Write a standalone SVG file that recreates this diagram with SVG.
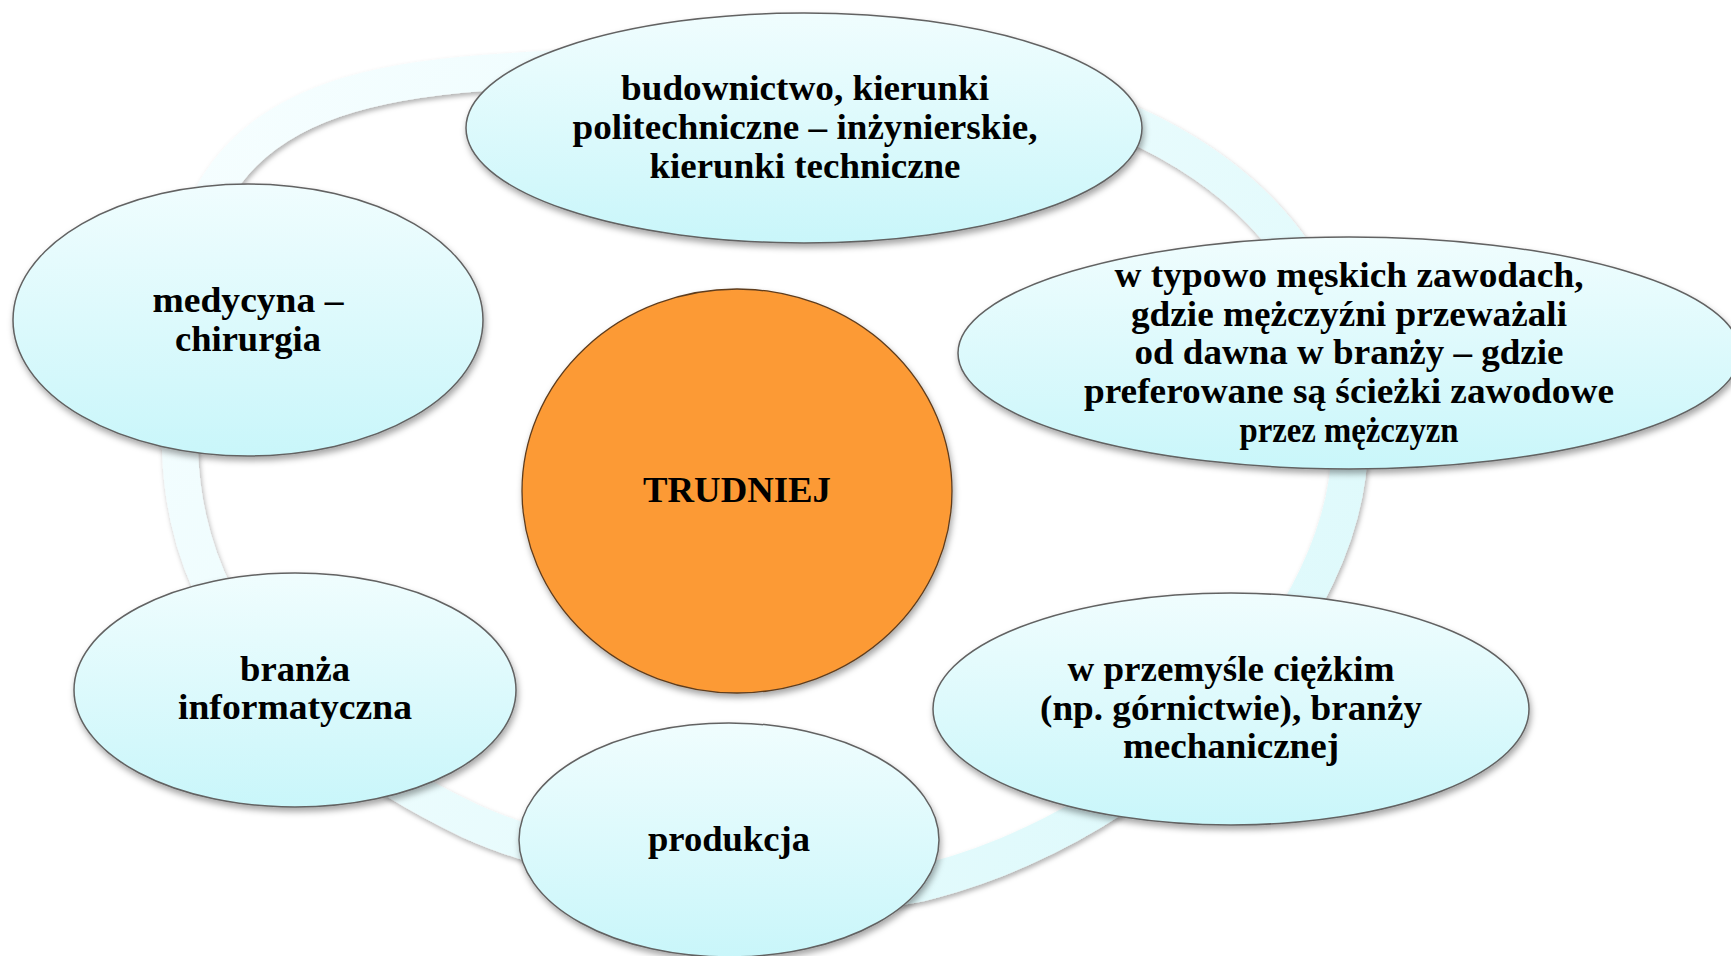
<svg xmlns="http://www.w3.org/2000/svg" width="1731" height="956" viewBox="0 0 1731 956">
  <style>
    .node { fill: url(#nodeFill); stroke: #626262; stroke-width: 1.5; filter: url(#shadow); }
    .core { fill: #fc9a36; stroke: #5e3d1f; stroke-width: 1.3; filter: url(#shadow); }
    .lbl { font-family: "Liberation Serif", "Times New Roman", serif; font-weight: bold; font-size: 36px; fill: #000; text-anchor: middle; }
    .ring { fill: none; stroke: url(#ringFill); stroke-width: 36; filter: url(#ringShadow); }
  </style>
  <defs>
    <linearGradient id="nodeFill" x1="0" y1="0" x2="0" y2="1">
      <stop offset="0" stop-color="#f0fdfe"/>
      <stop offset="1" stop-color="#c9f6fa"/>
    </linearGradient>
    <linearGradient id="ringFill" gradientUnits="userSpaceOnUse" x1="200" y1="60" x2="1300" y2="900">
      <stop offset="0" stop-color="#f6feff"/>
      <stop offset="1" stop-color="#dcf9fb"/>
    </linearGradient>
    <filter id="shadow" x="-10%" y="-10%" width="120%" height="130%">
      <feDropShadow dx="1.5" dy="4" stdDeviation="3" flood-color="#000" flood-opacity="0.35"/>
    </filter>
    <filter id="ringShadow" x="-10%" y="-10%" width="120%" height="120%">
      <feDropShadow dx="1.5" dy="3" stdDeviation="2.5" flood-color="#000" flood-opacity="0.3"/>
    </filter>
  </defs>
  <rect width="1731" height="956" fill="#ffffff"/>

  <g id="connectors">
    <path class="ring" d="M 180 450 C 155 170, 250 90, 483 73 C 600 64, 700 62, 800 62 C 1100 62, 1350 180, 1350 440 C 1350 620, 1160 820, 930 881 C 850 905, 600 880, 470 821 C 300 740, 185 620, 180 450 Z"/>
  </g>

  <g id="node-top">
    <ellipse class="node" cx="804" cy="128" rx="338" ry="115"/>
    <text class="lbl" x="805" y="100" textLength="368" lengthAdjust="spacingAndGlyphs">budownictwo, kierunki</text>
    <text class="lbl" x="805" y="139" textLength="465" lengthAdjust="spacingAndGlyphs">politechniczne – inżynierskie,</text>
    <text class="lbl" x="805" y="178" textLength="311" lengthAdjust="spacingAndGlyphs">kierunki techniczne</text>
  </g>

  <g id="node-right-top">
    <ellipse class="node" cx="1349" cy="353" rx="391" ry="116"/>
    <text class="lbl" x="1349" y="287" textLength="469" lengthAdjust="spacingAndGlyphs">w typowo męskich zawodach,</text>
    <text class="lbl" x="1349" y="326" textLength="436" lengthAdjust="spacingAndGlyphs">gdzie mężczyźni przeważali</text>
    <text class="lbl" x="1349" y="364" textLength="429" lengthAdjust="spacingAndGlyphs">od dawna w branży – gdzie</text>
    <text class="lbl" x="1349" y="403" textLength="530" lengthAdjust="spacingAndGlyphs">preferowane są ścieżki zawodowe</text>
    <text class="lbl" x="1349" y="442" textLength="219" lengthAdjust="spacingAndGlyphs">przez mężczyzn</text>
  </g>

  <g id="node-medycyna">
    <ellipse class="node" cx="248" cy="320" rx="235" ry="136"/>
    <text class="lbl" x="248" y="312" textLength="191" lengthAdjust="spacingAndGlyphs">medycyna –</text>
    <text class="lbl" x="248" y="351" textLength="146" lengthAdjust="spacingAndGlyphs">chirurgia</text>
  </g>

  <g id="node-branza">
    <ellipse class="node" cx="295" cy="690" rx="221" ry="117"/>
    <text class="lbl" x="295" y="681" textLength="110" lengthAdjust="spacingAndGlyphs">branża</text>
    <text class="lbl" x="295" y="719" textLength="234" lengthAdjust="spacingAndGlyphs">informatyczna</text>
  </g>

  <g id="node-produkcja">
    <ellipse class="node" cx="729" cy="840" rx="210" ry="117"/>
    <text class="lbl" x="729" y="851" textLength="162" lengthAdjust="spacingAndGlyphs">produkcja</text>
  </g>

  <g id="node-przemysl">
    <ellipse class="node" cx="1231" cy="709" rx="298" ry="116"/>
    <text class="lbl" x="1231" y="681" textLength="327" lengthAdjust="spacingAndGlyphs">w przemyśle ciężkim</text>
    <text class="lbl" x="1231" y="720" textLength="382" lengthAdjust="spacingAndGlyphs">(np. górnictwie), branży</text>
    <text class="lbl" x="1231" y="758" textLength="216" lengthAdjust="spacingAndGlyphs">mechanicznej</text>
  </g>

  <g id="node-center">
    <ellipse class="core" cx="737" cy="491" rx="215" ry="202"/>
    <text class="lbl" x="737" y="502" textLength="188" lengthAdjust="spacingAndGlyphs">TRUDNIEJ</text>
  </g>
</svg>
